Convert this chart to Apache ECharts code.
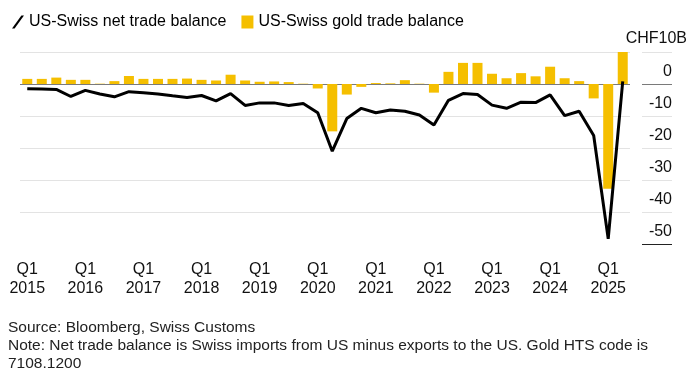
<!DOCTYPE html>
<html lang="en">
<head>
<meta charset="UTF-8">
<title>US-Swiss trade balance</title>
<style>
    *{
        margin: 0;
        padding: 0;
    }
    body{
        background: #fff;
    }
    #main{
        width: 693px;
        height: 376px;
    }
</style>
</head>
<body>
<div id="main"></div>
<script src="https://cdn.jsdelivr.net/npm/echarts@6/dist/echarts.min.js"></script>
<script type="text/javascript">
    // quarters, 2015 Q1 .. 2025 Q2
    var quarters = [
        '2015 Q1','2015 Q2','2015 Q3','2015 Q4',
        '2016 Q1','2016 Q2','2016 Q3','2016 Q4',
        '2017 Q1','2017 Q2','2017 Q3','2017 Q4',
        '2018 Q1','2018 Q2','2018 Q3','2018 Q4',
        '2019 Q1','2019 Q2','2019 Q3','2019 Q4',
        '2020 Q1','2020 Q2','2020 Q3','2020 Q4',
        '2021 Q1','2021 Q2','2021 Q3','2021 Q4',
        '2022 Q1','2022 Q2','2022 Q3','2022 Q4',
        '2023 Q1','2023 Q2','2023 Q3','2023 Q4',
        '2024 Q1','2024 Q2','2024 Q3','2024 Q4',
        '2025 Q1','2025 Q2'
    ];

    // CHF billions
    var goldBalance = [
        1.6, 1.6, 2.0, 1.3, 1.3, 0.1, 0.9, 2.5, 1.6, 1.6, 1.6, 1.7, 1.3, 1.1,
        2.9, 1.1, 0.7, 0.8, 0.6, 0.1, -1.4, -14.8, -3.3, -0.9, 0.3, 0.2, 1.2, 0.1,
        -2.7, 3.8, 6.6, 6.6, 3.2, 1.8, 3.4, 2.4, 5.4, 1.8, 0.9, -4.5, -32.7, 10.6
    ];
    var netBalance = [
        -1.5, -1.6, -1.7, -3.9, -2.0, -3.1, -4.0, -2.4, -2.7, -3.1, -3.7, -4.2, -3.6, -5.3,
        -3.0, -6.7, -5.9, -5.9, -6.7, -6.1, -9.0, -21.0, -10.8, -7.6, -9.0, -8.1, -8.5, -9.7,
        -12.8, -5.1, -3.0, -3.3, -6.6, -7.6, -5.7, -5.8, -3.4, -9.9, -8.5, -16.1, -48.4, 0.8
    ];

    var yMin = -50, yMax = 10, yStep = 10;
    var unitLabel = 'CHF10B';
    var legendNames = ['US-Swiss net trade balance', 'US-Swiss gold trade balance'];
    var footnote = [
        'Source: Bloomberg, Swiss Customs',
        'Note: Net trade balance is Swiss imports from US minus exports to the US. Gold HTS code is',
        '7108.1200'
    ];

    var font = '"Liberation Sans", Arial, sans-serif';
    var gold = '#f5bf00';
    var light = '#e3e3e3';

    function isQ1(i){
        return i % 4 === 0;
    }

    var myChart = echarts.init(document.getElementById('main'));
    myChart.setOption({
        animation: false,
        textStyle: { fontFamily: font },
        legend: {
            left: 7,
            top: 9,
            itemWidth: 12,
            itemHeight: 13,
            itemGap: 15,
            textStyle: { fontSize: 16, color: '#000', fontFamily: font },
            data: [
                { name: legendNames[0], icon: 'path://M0,13 L2.6,13 L12,0 L9.4,0 Z' },
                { name: legendNames[1], icon: 'rect' }
            ]
        },
        grid: [
            { left: 20, top: 52, width: 610, height: 192 },
            { left: 642, top: 52, width: 30, height: 192 }
        ],
        xAxis: [
            {
                type: 'category',
                gridIndex: 0,
                data: quarters,
                offset: 3,
                axisLine: { show: false },
                axisTick: {
                    alignWithLabel: true,
                    interval: isQ1,
                    length: 6,
                    lineStyle: { color: '#777' }
                },
                axisLabel: {
                    interval: isQ1,
                    margin: 13,
                    fontSize: 16,
                    lineHeight: 19,
                    color: '#111',
                    formatter: function(v){
                        var p = v.split(' ');
                        return p[1] + '\n' + p[0];
                    }
                }
            },
            { type: 'value', gridIndex: 1, show: false, min: 0, max: 1 }
        ],
        yAxis: [
            {
                type: 'value',
                gridIndex: 0,
                min: yMin,
                max: yMax,
                interval: yStep,
                axisLabel: { show: false },
                axisLine: { show: false },
                axisTick: { show: false },
                splitLine: {
                    lineStyle: { color: ['rgba(0,0,0,0)', light, light, light, light, '#7a7a7a', light] }
                }
            },
            {
                type: 'value',
                gridIndex: 1,
                position: 'right',
                offset: 15,
                min: yMin,
                max: yMax,
                interval: yStep,
                axisLine: { show: false },
                axisTick: { show: false },
                splitLine: {
                    lineStyle: { color: ['#222', light, light, light, light, '#7a7a7a', light] }
                },
                axisLabel: {
                    inside: true,
                    margin: 0,
                    verticalAlign: 'bottom',
                    fontSize: 16,
                    color: '#111',
                    formatter: function(v){
                        if(v === yMax){
                            return '{u|' + unitLabel + '}';
                        }
                        return '{n|' + v + '}';
                    },
                    rich: {
                        u: { fontSize: 16, padding: [0, 0, 5, 0], color: '#111' },
                        n: { fontSize: 16, padding: [0, 15, 4, 0], color: '#111' }
                    }
                }
            }
        ],
        series: [
            {
                name: legendNames[1],
                type: 'bar',
                xAxisIndex: 0,
                yAxisIndex: 0,
                barWidth: 10,
                color: gold,
                silent: true,
                data: goldBalance
            },
            {
                name: legendNames[0],
                type: 'line',
                xAxisIndex: 0,
                yAxisIndex: 0,
                color: '#000',
                symbol: 'none',
                silent: true,
                z: 5,
                lineStyle: { width: 3, color: '#000' },
                data: netBalance
            }
        ],
        graphic: [
            {
                type: 'text',
                left: 8,
                top: 319,
                style: {
                    text: footnote.join('\n'),
                    font: '15.5px ' + font,
                    lineHeight: 18,
                    fill: '#222'
                }
            }
        ]
    });
</script>
</body>
</html>
